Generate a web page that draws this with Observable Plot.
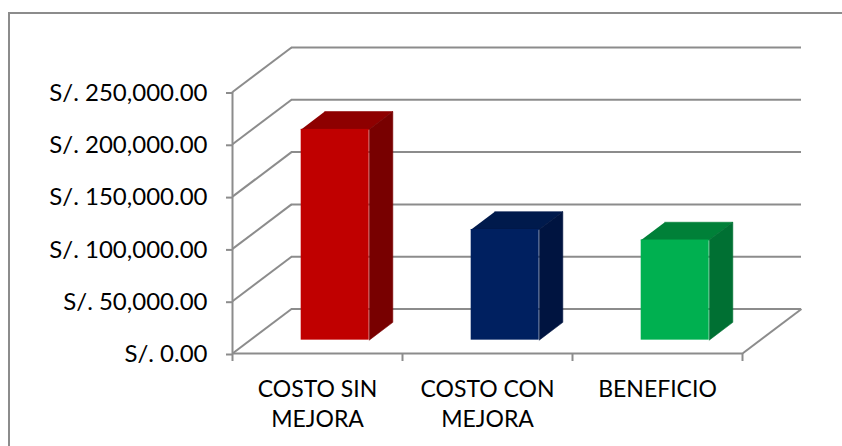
<!DOCTYPE html>
<html>
<head>
<meta charset="utf-8">
<script src="https://cdn.jsdelivr.net/npm/d3@7"></script>
<script src="https://cdn.jsdelivr.net/npm/@observablehq/plot@0.6"></script>
<style>
  html, body { margin: 0; padding: 0; background: #fff; overflow: hidden; }
  #page { position: relative; width: 842px; height: 446px; overflow: hidden; background: #fff; }
  #frame { position: absolute; left: 8px; top: 12px; width: 900px; height: 500px; border: 2px solid #8c8c8c; box-sizing: border-box; }
  #chart { position: absolute; left: 0; top: 0; }
</style>
</head>
<body>
<div id="page"><div id="frame"></div><div id="chart"></div></div>
<script>
// ---- data ----
const categories = ["COSTO SIN\nMEJORA", "COSTO CON\nMEJORA", "BENEFICIO"];
const values = [201500, 105800, 95700];
const frontColors = ["#C00000", "#002060", "#00B050"];
const topColors = ["#8E0000", "#001A4C", "#008038"];
const sideColors = ["#780000", "#001440", "#007033"];
const yTicks = [0, 50000, 100000, 150000, 200000, 250000];
const yMax = 250000;

// ---- layout / oblique projection ----
const W = 842, H = 446;
const mL = 232, mR = 41, mT = 47, mB = 93;
const DEPTH_X = 59, DEPTH_Y = 44.5;     // pixel depth of the 3D box
const n = categories.length;
const plotW = W - mL - mR, plotH = H - mT - mB;
const DXU = n * DEPTH_X / (plotW - DEPTH_X);        // depth in x units
const DYU = yMax * DEPTH_Y / (plotH - DEPTH_Y);     // depth in y units
const F1 = 0.3, F2 = 0.7;                           // bar front/back depth
const BAR0 = 0.3, BAR1 = 0.7;                       // bar extent inside band
const P = (cx, v, depth) => ({x: cx + depth * DXU, y: v + depth * DYU});

const bars = values.map((v, i) => ({i, v, front: frontColors[i], top: topColors[i], side: sideColors[i]}));
const facePts = [];
bars.forEach(b => {
  const t = [[b.i + BAR0, b.v, F1], [b.i + BAR1, b.v, F1], [b.i + BAR1, b.v, F2], [b.i + BAR0, b.v, F2]];
  const s = [[b.i + BAR1, 0, F1], [b.i + BAR1, 0, F2], [b.i + BAR1, b.v, F2], [b.i + BAR1, b.v, F1]];
  t.forEach(p => facePts.push({...P(...p), face: "t" + b.i, color: b.top}));
  s.forEach(p => facePts.push({...P(...p), face: "s" + b.i, color: b.side}));
});

const grid = "#8c8c8c";
const fmt = d3.format(",.2f");

const chart = Plot.plot({
  width: W, height: H,
  marginLeft: mL, marginRight: mR, marginTop: mT, marginBottom: mB,
  x: {domain: [0, n + DXU], axis: null},
  y: {domain: [0, yMax + DYU], axis: null},
  color: {type: "identity"},
  style: {background: "transparent", fontFamily: "Lato, sans-serif", fontSize: "23px", color: "#000", overflow: "visible"},
  marks: [
    // back wall gridlines
    Plot.ruleY(yTicks, {y: d => d + DYU, x1: () => DXU, x2: () => n + DXU, stroke: grid, strokeWidth: 2}),
    // left wall diagonals
    Plot.link(yTicks, {x1: () => 0, y1: d => d, x2: () => DXU, y2: d => d + DYU, stroke: grid, strokeWidth: 2}),
    // floor: front edge and right edge
    Plot.ruleY([0], {y: d => d, x1: () => 0, x2: () => n, stroke: grid, strokeWidth: 2}),
    Plot.link([0], {x1: () => n, y1: () => 0, x2: () => n + DXU, y2: () => DYU, stroke: grid, strokeWidth: 2}),
    // bars: side and top faces
    Plot.line(facePts, {x: "x", y: "y", z: "face", fill: "color", stroke: "color", strokeWidth: 0.6}),
    // bars: front faces
    Plot.rect(bars, {
      x1: d => d.i + BAR0 + F1 * DXU, x2: d => d.i + BAR1 + F1 * DXU,
      y1: () => F1 * DYU, y2: d => d.v + F1 * DYU,
      fill: "front", inset: 0
    }),
    // front value axis line
    Plot.ruleX([0], {x: d => d, y1: () => 0, y2: () => yMax, stroke: grid, strokeWidth: 2}),
    Plot.axisY(yTicks, {
      anchor: "left", tickSize: 6, tickPadding: 19, label: null,
      tickFormat: d => "S/. " + fmt(d), stroke: grid, strokeWidth: 2, fontSize: 24, dy: 1
    }),
    Plot.axisX([0, 1, 2, 3], {anchor: "bottom", tickSize: 8, tickFormat: () => "", label: null, stroke: grid, strokeWidth: 2}),
    Plot.text(categories, {
      x: (d, i) => i + 0.5, y: () => 0, text: d => d,
      lineAnchor: "top", dy: 23, lineHeight: 1.28, fontSize: 23, fill: "#000"
    })
  ]
});
document.getElementById("chart").appendChild(chart);
</script>
</body>
</html>
